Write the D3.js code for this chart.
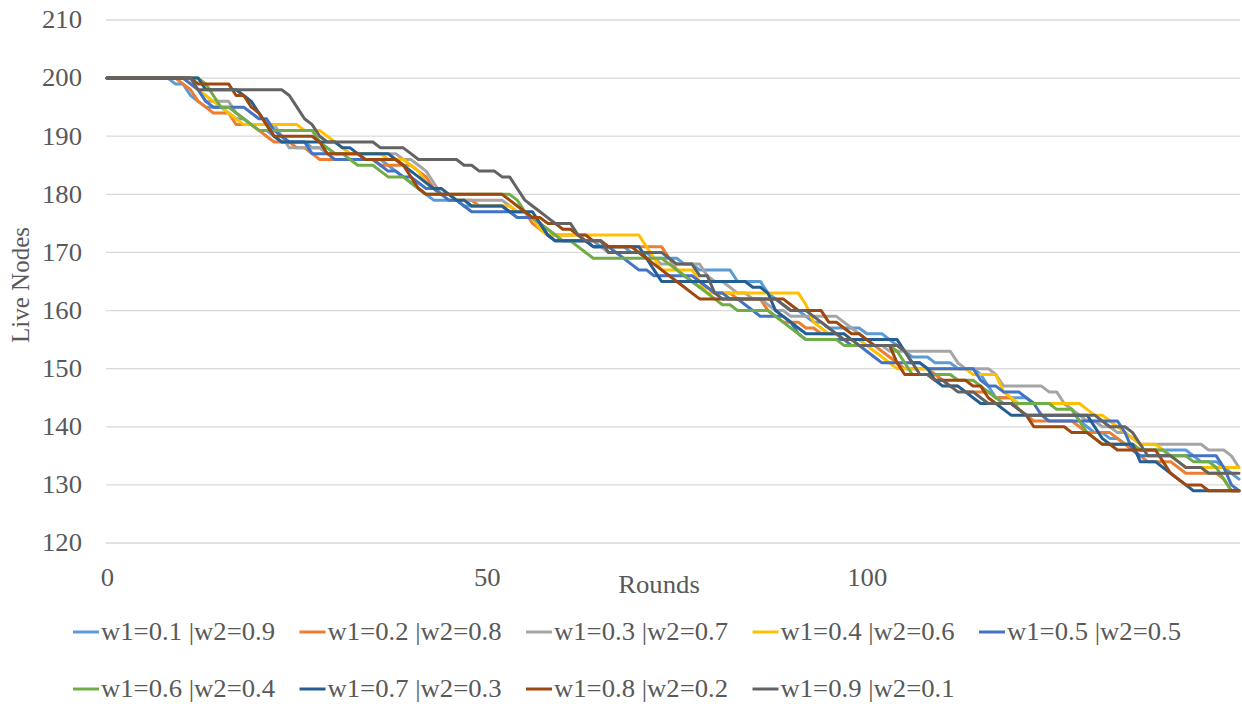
<!DOCTYPE html>
<html><head><meta charset="utf-8">
<script src="https://cdn.jsdelivr.net/npm/d3@7"></script>
<style>html,body{margin:0;padding:0;background:#fff;} svg{display:block;}</style>
</head><body>
<svg id="chart" width="1242" height="704"></svg>
<script>
// ---------------- DATA ----------------
const rounds = d3.range(0, 150);               // categories: round 0 .. 149
const xTickLabels = [0, 50, 100];
const yTicks = [120, 130, 140, 150, 160, 170, 180, 190, 200, 210];
const seriesNames = ["w1=0.1 |w2=0.9", "w1=0.2 |w2=0.8", "w1=0.3 |w2=0.7", "w1=0.4 |w2=0.6", "w1=0.5 |w2=0.5",
                     "w1=0.6 |w2=0.4", "w1=0.7 |w2=0.3", "w1=0.8 |w2=0.2", "w1=0.9 |w2=0.1"];

const w01 = [200,200,200,200,200,200,200,200,200,199, 199,197,196,195,195,195,194,193,193,192,
             191,191,190,189,189,189,189,188,188,188, 187,187,187,187,186,186,186,185,184,183,
             182,181,180,179,179,179,179,178,178,178, 178,178,178,177,176,176,176,175,173,172,
             172,172,172,172,172,171,171,171,171,170, 170,170,169,169,169,169,168,168,167,167,
             167,167,167,165,165,165,165,163,162,161, 160,160,159,158,158,157,157,157,157,157,
             156,156,156,155,154,153,152,152,152,151, 151,151,150,150,150,149,147,145,145,145,
             145,145,144,144,144,144,144,143,141,140, 139,139,138,138,137,137,136,136,136,136,
             136,136,136,135,134,134,134,133,132,131];
const w02 = [200,200,200,200,200,200,200,200,200,200, 199,198,196,195,194,194,194,192,192,192,
             191,190,189,189,189,188,188,187,186,186, 186,186,186,186,186,186,185,185,185,185,
             185,184,183,181,180,180,179,179,179,178, 178,178,178,177,177,177,175,174,173,173,
             173,173,173,172,172,172,171,171,171,171, 171,171,171,171,169,167,166,165,164,164,
             163,163,163,162,162,162,162,160,159,158, 158,158,157,157,156,156,156,155,155,154,
             154,154,153,152,151,150,150,150,150,149, 148,147,147,146,146,146,146,145,145,145,
             143,142,141,141,141,141,141,141,140,139, 139,139,139,138,137,136,135,134,134,134,
             134,133,132,132,132,132,132,131,129,129];
const w03 = [200,200,200,200,200,200,200,200,200,200, 200,199,198,196,196,196,196,194,193,192,
             192,192,192,190,188,188,188,188,188,187, 187,187,187,187,187,187,187,187,187,186,
             186,185,184,182,180,180,179,179,179,179, 179,179,179,178,177,177,176,175,174,173,
             172,172,172,172,171,171,170,170,170,170, 170,169,169,168,168,168,168,168,168,166,
             165,165,164,163,163,162,162,161,160,160, 159,159,159,159,159,159,159,158,157,156,
             155,154,154,153,153,153,153,153,153,153, 153,153,151,150,150,150,150,149,147,147,
             147,147,147,147,146,146,144,143,142,141, 141,140,140,139,139,138,137,137,137,137,
             137,137,137,137,137,136,136,136,135,133];
const w04 = [200,200,200,200,200,200,200,200,200,200, 200,199,198,197,196,195,194,193,192,192,
             192,192,192,192,192,192,191,191,191,190, 189,188,187,187,187,187,187,186,186,186,
             185,184,182,181,180,180,179,179,178,178, 178,178,178,178,177,177,176,174,173,173,
             173,173,173,173,173,173,173,173,173,173, 173,171,169,167,167,167,167,167,165,163,
             163,163,163,163,163,163,163,163,163,163, 163,163,161,158,157,156,156,155,155,155,
             154,153,152,151,150,150,150,150,150,150, 150,150,150,150,149,149,149,149,146,145,
             144,144,144,144,144,144,144,144,144,143, 142,142,141,140,139,138,137,137,137,136,
             135,134,133,133,133,133,133,133,133,133];
const w05 = [200,200,200,200,200,200,200,200,200,200, 200,199,198,196,195,195,195,195,195,194,
             193,193,191,190,189,189,189,187,187,187, 186,186,186,186,186,186,185,184,184,183,
             183,182,181,181,180,179,179,178,177,177, 177,177,177,177,176,176,176,175,173,172,
             172,172,172,172,171,171,171,170,169,168, 167,167,166,166,166,166,166,166,165,164,
             163,163,162,162,161,160,159,159,159,159, 158,156,155,155,155,155,155,155,154,154,
             153,152,151,151,151,151,151,151,150,150, 150,150,150,150,150,148,147,147,146,146,
             146,145,144,142,141,141,141,141,141,141, 141,141,141,141,139,136,135,135,135,135,
             135,135,135,135,135,135,135,133,130,129];
const w06 = [200,200,200,200,200,200,200,200,200,200, 200,200,200,199,197,195,195,194,193,192,
             191,191,191,191,191,191,191,191,189,188, 187,187,186,185,185,185,184,183,183,183,
             182,181,180,180,180,180,180,180,180,180, 180,180,180,180,179,177,176,175,174,173,
             172,172,171,170,169,169,169,169,169,169, 169,169,169,169,168,167,166,165,164,163,
             162,161,161,160,160,160,160,160,159,158, 157,156,155,155,155,155,155,154,154,154,
             154,154,154,154,153,151,149,149,149,149, 149,149,148,148,148,147,146,145,144,144,
             144,144,144,144,144,143,143,143,141,139, 138,137,137,137,137,137,136,136,136,136,
             135,135,135,134,134,134,133,131,129,129];
const w07 = [200,200,200,200,200,200,200,200,200,200, 200,200,200,198,198,198,198,198,197,196,
             194,192,190,189,189,189,189,189,189,189, 189,188,188,187,187,187,187,187,186,185,
             184,183,182,181,181,180,179,179,178,178, 178,178,178,177,177,177,177,175,173,172,
             172,172,172,172,171,171,171,171,171,171, 171,169,167,165,165,165,165,165,165,165,
             165,165,165,165,165,164,164,163,160,159, 158,157,156,156,156,156,156,156,155,155,
             155,155,155,155,155,153,151,151,150,148, 147,147,147,146,145,144,144,144,143,142,
             142,142,142,142,142,142,142,142,142,142, 140,138,137,137,137,137,134,134,134,133,
             132,131,130,129,129,129,129,129,129,129];
const w08 = [200,200,200,200,200,200,200,200,200,200, 200,200,199,199,199,199,199,197,197,195,
             194,192,190,190,190,190,190,190,189,187, 187,187,187,187,186,186,186,186,186,185,
             183,181,180,180,180,180,180,180,180,180, 180,180,180,179,178,177,176,176,175,175,
             174,174,173,173,172,172,171,171,171,171, 170,169,168,167,166,165,164,163,162,162,
             162,162,162,162,162,162,162,162,162,162, 161,160,160,160,160,158,158,157,156,156,
             155,154,154,154,151,149,149,149,149,148, 148,148,148,148,147,147,145,144,144,144,
             143,142,140,140,140,140,140,139,139,139, 138,137,137,136,136,136,136,136,136,134,
             132,131,130,130,130,129,129,129,129,129];
const w09 = [200,200,200,200,200,200,200,200,200,200, 200,200,198,198,198,198,198,198,198,198,
             198,198,198,198,197,195,193,192,190,189, 189,189,189,189,189,189,188,188,188,188,
             187,186,186,186,186,186,186,185,185,184, 184,184,183,183,181,179,178,177,176,175,
             175,175,173,172,172,172,170,170,170,170, 170,170,170,170,169,168,168,168,166,166,
             163,162,162,162,162,162,162,162,162,161, 160,160,160,159,158,157,156,155,155,154,
             154,154,154,154,154,153,151,149,149,148, 148,147,146,146,146,145,144,144,144,144,
             143,142,142,142,142,142,142,142,142,142, 142,141,140,140,140,139,137,135,135,135,
             135,134,133,133,133,132,132,132,132,132];

const seriesValues = [w01, w02, w03, w04, w05, w06, w07, w08, w09];
const seriesColors = ["#5B9BD5", "#ED7D31", "#A5A5A5", "#FFC000", "#4472C4", "#70AD47", "#255E91", "#9E480E", "#636363"];

// ---------------- CHART ----------------
const FONT = '"Liberation Serif","Times New Roman",serif';
const TXT = "#595959";
const SX = 1.09;   // the reference text is slightly wide
const FS = 24.5;

const x = d3.scaleLinear().domain([0, 149]).range([107, 1239]);
const y = d3.scaleLinear().domain([120, 210]).range([543, 20]);
const svg = d3.select("#chart");

// gridlines
svg.append("g").selectAll("line").data(yTicks).join("line")
  .attr("x1", 106).attr("x2", 1240)
  .attr("y1", d => y(d)).attr("y2", d => y(d))
  .attr("stroke", "#D9D9D9").attr("stroke-width", 1.3);

// y axis
const gy = svg.append("g").attr("transform", "translate(106,0)")
  .call(d3.axisLeft(y).tickValues(yTicks).tickSize(0).tickPadding(22));
gy.select(".domain").remove();
gy.selectAll("text").attr("font-family", FONT).attr("font-size", FS).attr("fill", TXT)
  .attr("transform", `scale(${SX},1)`);

// x axis
const gx = svg.append("g").attr("transform", "translate(0,543)")
  .call(d3.axisBottom(x).tickValues(xTickLabels).tickFormat(d3.format("d")).tickSize(0).tickPadding(26));
gx.select(".domain").remove();
gx.selectAll("text").attr("font-family", FONT).attr("font-size", FS).attr("fill", TXT)
  .attr("transform", `scale(${SX},1)`);

// axis titles
svg.append("g").attr("transform", "translate(659,593)")
  .append("text").attr("text-anchor", "middle").attr("transform", `scale(${SX},1)`)
  .attr("font-family", FONT).attr("font-size", FS).attr("fill", TXT).text("Rounds");
svg.append("text").attr("transform", "translate(29,285) rotate(-90)")
  .attr("text-anchor", "middle").attr("font-family", FONT).attr("font-size", 25)
  .attr("fill", TXT).text("Live Nodes");

// lines
const line = d3.line().x((d, i) => x(rounds[i])).y(d => y(d));
svg.append("g").selectAll("path").data(seriesValues).join("path")
  .attr("d", line)
  .attr("fill", "none")
  .attr("stroke", (d, i) => seriesColors[i])
  .attr("stroke-width", 3)
  .attr("stroke-linejoin", "round")
  .attr("stroke-linecap", "round");

// legend
const legCols = [73, 299.5, 526, 752.5, 979];
const legRows = [632, 689];
const leg = svg.append("g").selectAll("g").data(seriesNames).join("g")
  .attr("transform", (d, i) => `translate(${legCols[i % 5]},${legRows[Math.floor(i / 5)]})`);
leg.append("line").attr("x1", 0).attr("x2", 26).attr("y1", 0).attr("y2", 0)
  .attr("stroke", (d, i) => seriesColors[i]).attr("stroke-width", 3);
leg.append("g").attr("transform", "translate(28,8)")
  .append("text").attr("transform", `scale(${SX},1)`)
  .attr("font-family", FONT).attr("font-size", FS).attr("fill", TXT).text(d => d);
</script>
</body></html>
